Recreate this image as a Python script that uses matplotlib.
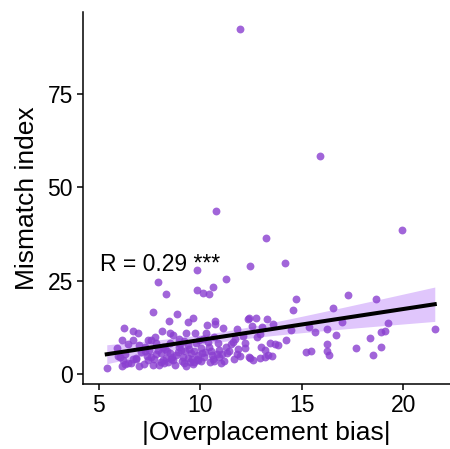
import numpy as np
import matplotlib
matplotlib.use('Agg')
import matplotlib.pyplot as plt

plt.rcParams['font.family'] = ['Liberation Sans', 'DejaVu Sans']

# |overplacement bias| and mismatch index
x_bias = [
    11.95, 15.87, 10.79, 19.92, 13.21, 14.15, 12.46, 9.85, 7.92, 11.25,
    8.30, 9.85, 10.11, 10.44, 10.64, 17.25, 14.72, 18.64, 14.57, 16.52,
    7.69, 8.85, 9.62, 9.41, 8.44, 6.26, 6.69, 10.70, 10.74, 10.31,
    11.10, 12.33, 12.74, 12.40, 13.30, 13.56, 12.56, 13.05, 11.79, 16.95,
    19.26, 21.54, 16.25, 15.64, 15.36, 14.44, 18.89, 19.08, 16.68, 18.36,
    14.23, 16.23, 18.88, 17.67, 15.21, 15.43, 16.25, 16.31, 18.49, 12.92,
    13.00, 13.43, 13.69, 13.18, 13.51, 13.20, 12.95, 12.20, 12.20, 12.38,
    12.44, 11.87, 11.79, 11.64, 11.49, 11.33, 11.00, 10.93, 10.61, 10.88,
    10.69, 10.26, 10.15, 9.74, 9.30, 9.21, 8.97, 8.67, 8.48, 8.10,
    7.75, 7.57, 7.28, 7.00, 6.67, 6.43, 6.15, 5.89, 5.39, 6.13,
    6.31, 6.18, 6.31, 6.84, 7.00, 7.20, 7.41, 7.57, 7.82, 8.07,
    8.20, 8.31, 8.48, 8.64, 8.80, 9.05, 9.21, 9.30, 9.38, 9.54,
    9.70, 9.87, 10.03, 10.20, 10.41, 10.52, 7.49, 7.82, 8.15, 8.48,
    8.97, 9.38, 9.79, 9.95, 10.36, 10.93, 11.59, 11.26, 6.92, 7.70,
    8.05, 5.95, 6.60, 7.10, 7.35, 7.90, 8.35, 8.60, 8.90, 9.10,
    9.45, 9.60, 9.90, 10.10, 10.45, 10.80, 11.40, 11.95, 12.60, 6.45,
    7.65, 8.75, 9.15, 9.65, 10.05, 9.00, 8.25, 7.25, 6.85, 10.55,
    11.15, 12.10, 13.35, 9.50, 8.55, 7.95, 9.25, 10.25, 11.70, 6.05,
    8.40, 9.85, 10.65, 7.40, 12.80, 13.80, 9.70, 8.15, 6.70, 11.05,
]
mismatch = [
    92.4, 58.4, 43.6, 38.5, 36.5, 29.7, 28.9, 27.9, 24.5, 25.5,
    21.5, 22.4, 21.8, 21.5, 23.3, 21.2, 20.0, 20.1, 17.1, 17.6,
    16.5, 16.1, 15.1, 13.9, 14.1, 12.2, 11.5, 14.1, 13.4, 13.0,
    12.4, 14.8, 15.0, 14.9, 14.6, 13.4, 12.7, 12.6, 12.0, 13.8,
    13.6, 12.0, 12.0, 11.2, 12.6, 11.7, 11.2, 11.5, 10.3, 9.6,
    9.1, 8.0, 7.3, 6.9, 5.8, 6.0, 6.1, 5.1, 5.0, 10.8,
    7.3, 8.2, 7.9, 6.4, 4.8, 4.4, 4.2, 8.2, 6.9, 4.6,
    4.2, 6.8, 5.2, 3.9, 8.0, 5.7, 3.0, 4.6, 4.1, 8.2,
    10.0, 10.9, 9.3, 10.9, 10.9, 8.9, 9.3, 10.4, 10.9, 11.4,
    10.0, 9.1, 7.3, 7.7, 9.1, 7.9, 9.1, 6.9, 1.6, 2.1,
    2.6, 3.7, 5.3, 3.9, 2.2, 2.7, 3.7, 4.5, 5.3, 5.5,
    2.8, 4.2, 5.5, 3.7, 5.1, 6.4, 2.8, 2.0, 4.2, 5.5,
    3.3, 5.1, 6.9, 4.6, 7.3, 6.0, 6.4, 8.2, 7.3, 8.2,
    7.3, 7.7, 8.2, 9.1, 8.6, 6.4, 8.6, 7.3, 10.9, 4.0,
    3.2, 4.8, 3.0, 5.9, 4.9, 6.5, 6.2, 4.4, 5.8, 3.5,
    6.7, 4.0, 3.6, 5.6, 3.1, 5.3, 6.1, 4.9, 3.6, 2.9,
    2.5, 2.4, 4.6, 2.6, 3.4, 7.9, 6.7, 6.0, 4.3, 5.0,
    3.5, 10.2, 5.1, 3.1, 3.9, 2.4, 6.2, 5.9, 9.3, 4.4,
    3.3, 4.0, 3.4, 9.0, 9.8, 7.8, 6.2, 3.6, 4.1, 5.4,
]

x = np.array(x_bias)
y = np.array(mismatch)

# linear fit with 95% confidence band
slope, icpt = np.polyfit(x, y, 1)
xs = np.linspace(x.min(), x.max(), 100)
ys = slope * xs + icpt
n = len(x)
resid = y - (slope * x + icpt)
s = np.sqrt(np.sum(resid ** 2) / (n - 2))
se = s * np.sqrt(1 / n + (xs - x.mean()) ** 2 / np.sum((x - x.mean()) ** 2))
t = 1.97

fig = plt.figure(figsize=(4.5, 4.49), dpi=100)
ax = fig.add_axes([0.184, 0.145, 0.816, 0.829])

ax.fill_between(xs, ys - t * se, ys + t * se, color='#e0c6fc', lw=0, zorder=1)
ax.scatter(x, y, s=32, color='#8a3fd0', alpha=0.8, lw=0, zorder=2)
ax.plot(xs, ys, color='black', lw=2.9, zorder=3)

ax.text(5.05, 27.6, 'R = {0:.2f} ***'.format(0.29), fontsize=16.5,
        ha='left', va='baseline')

ax.set_xlim(4.21, 22.29)
ax.set_ylim(-2.68, 97.05)
ax.set_xticks([5, 10, 15, 20])
ax.set_yticks([0, 25, 50, 75])
for side in ['top', 'right']:
    ax.spines[side].set_visible(False)
for side in ['left', 'bottom']:
    ax.spines[side].set_linewidth(1.1)
ax.tick_params(direction='out', length=4, width=1.1, labelsize=16.5,
               colors='black', pad=3)
ax.set_xlabel('|Overplacement bias|', fontsize=19, labelpad=3)
ax.set_ylabel('Mismatch index', fontsize=19, labelpad=6)

fig.savefig('out.png', dpi=100)
